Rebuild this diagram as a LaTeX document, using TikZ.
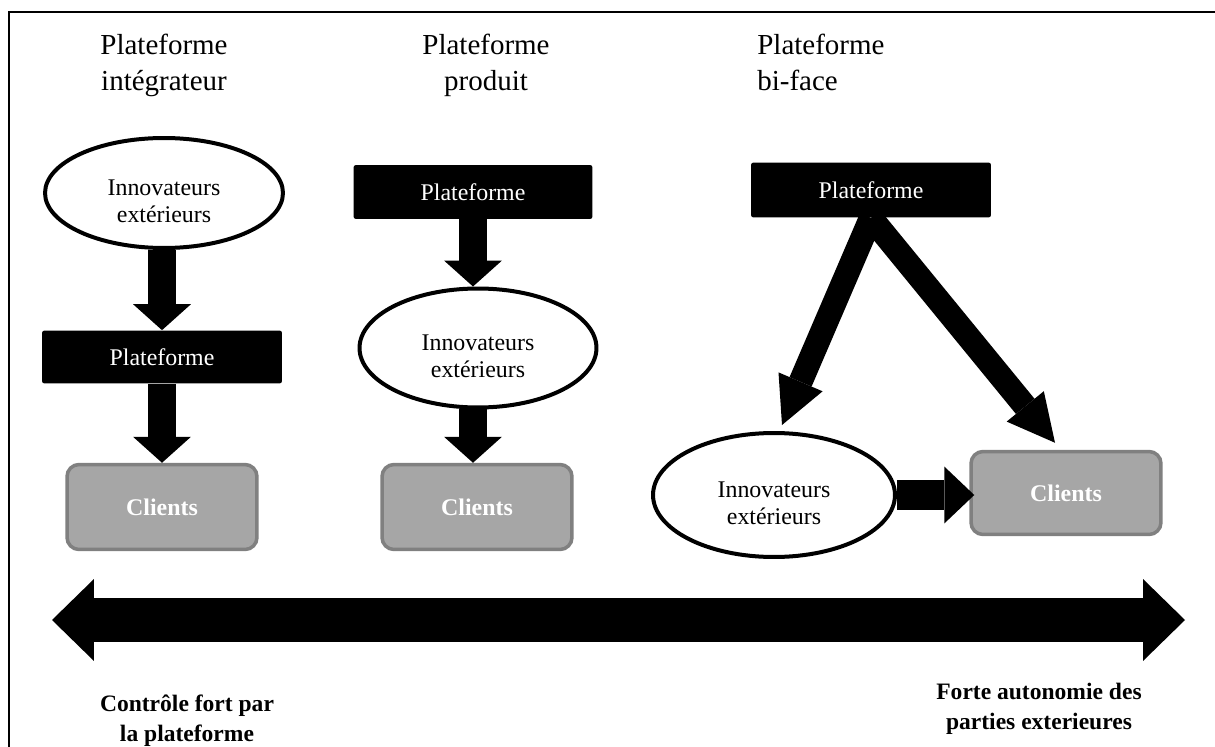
\documentclass[tikz,border=0pt]{standalone}
\usepackage{fontspec}
\setmainfont{Liberation Serif}
\usetikzlibrary{arrows.meta,shapes.geometric}
\tikzset{
  innov/.style={ellipse,draw=black,line width=0.08cm,fill=white,inner sep=0pt,
    label={[yshift=-0.17cm,align=center,inner sep=0pt,font=\fontsize{13.6}{15.6}\selectfont]center:Innovateurs\\extérieurs}},
  platbox/.style={rectangle,fill=black,rounded corners=0.05cm,inner sep=0pt,
    text=white,font=\fontsize{13.6}{15.6}\selectfont},
  clientbox/.style={rectangle,draw={rgb,255:red,128;green,128;blue,128},line width=0.07cm,
    fill={rgb,255:red,166;green,166;blue,166},rounded corners=0.24cm,inner sep=0pt,
    text=white,font=\fontsize{13.6}{15.6}\selectfont\bfseries,minimum width=3.8cm,minimum height=1.7cm},
  titletext/.style={font=\fontsize{16.5}{20.5}\selectfont,inner sep=0pt},
  bottomtext/.style={font=\fontsize{13.4}{17}\selectfont\bfseries,align=center,inner sep=0pt},
  blockarrow/.style={line width=0.56cm,-{Triangle[length=0.52cm,width=1.16cm,line width=0pt]}},
  diagarrow/.style={line width=0.48cm,-{Triangle[length=0.94cm,width=0.96cm,line width=0pt]}},
  bigarrow/.style={line width=0.88cm,{Triangle[length=0.84cm,width=1.64cm,line width=0pt]}-{Triangle[length=0.84cm,width=1.64cm,line width=0pt]}}
}
\begin{document}
\begin{tikzpicture}[x=0.02cm,y=-0.02cm]
\path[use as bounding box,fill=white] (0,0) rectangle (1215,747);
\draw[line width=0.055cm] (9,747) -- (9,12) -- (1215,12);

% titles
\node[titletext,align=center,anchor=north] (t1) at (164,34) {Plateforme\\intégrateur};
\node[titletext,align=center,anchor=north] (t2) at (486,34) {Plateforme\\produit};
\node[titletext,align=left,anchor=north west] (t3) at (757,34) {Plateforme\\bi-face};

% column 1
\node[innov,minimum width=4.76cm,minimum height=2.2cm] (e1) at (164,193) {};
\node[platbox,minimum width=4.8cm,minimum height=1.06cm] (p1) at (162,357) {Plateforme};
\node[clientbox] (c1) at (162,507) {Clients};
\draw[blockarrow] (p1.north |- e1.south) -- (p1.north);
\draw[blockarrow] (p1.south) -- (p1.south |- c1.north);

% column 2
\node[platbox,minimum width=4.78cm,minimum height=1.08cm] (p2) at (473,192) {Plateforme};
\node[innov,minimum width=4.74cm,minimum height=2.38cm] (e2) at (478,348) {};
\node[clientbox] (c2) at (477,507) {Clients};
\draw[blockarrow] (p2.south) -- (p2.south |- e2.north);
\draw[blockarrow] (p2.south |- e2.south) -- (p2.south |- c2.north);

% column 3
\node[platbox,minimum width=4.8cm,minimum height=1.1cm] (p3) at (871,190) {Plateforme};
\node[innov,minimum width=4.84cm,minimum height=2.48cm] (e3) at (774,495) {};
\node[clientbox,minimum height=1.66cm] (c3) at (1066,493) {Clients};
\coordinate (e3in) at ([xshift=0.16cm,yshift=0.12cm]e3.north);
\coordinate (c3in) at ([xshift=-0.22cm,yshift=0.14cm]c3.north);
\draw[diagarrow] (p3.south) -- (e3in);
\draw[diagarrow] (p3.south) -- (c3in);
\draw[line width=0.6cm,-{Triangle[length=0.6cm,width=1.14cm,line width=0pt]}] (e3.east) -- ([xshift=0.1cm]c3.west |- e3.east);

% big double arrow
\coordinate (bl) at (52,620);
\coordinate (br) at (1185,620);
\draw[bigarrow] (bl) -- (br);

% bottom labels
\node[bottomtext] (lab1) at (187,721) {Contrôle fort par\\la plateforme};
\node[bottomtext] (lab2) at (1039,709) {Forte autonomie des\\parties exterieures};
\end{tikzpicture}
\end{document}
